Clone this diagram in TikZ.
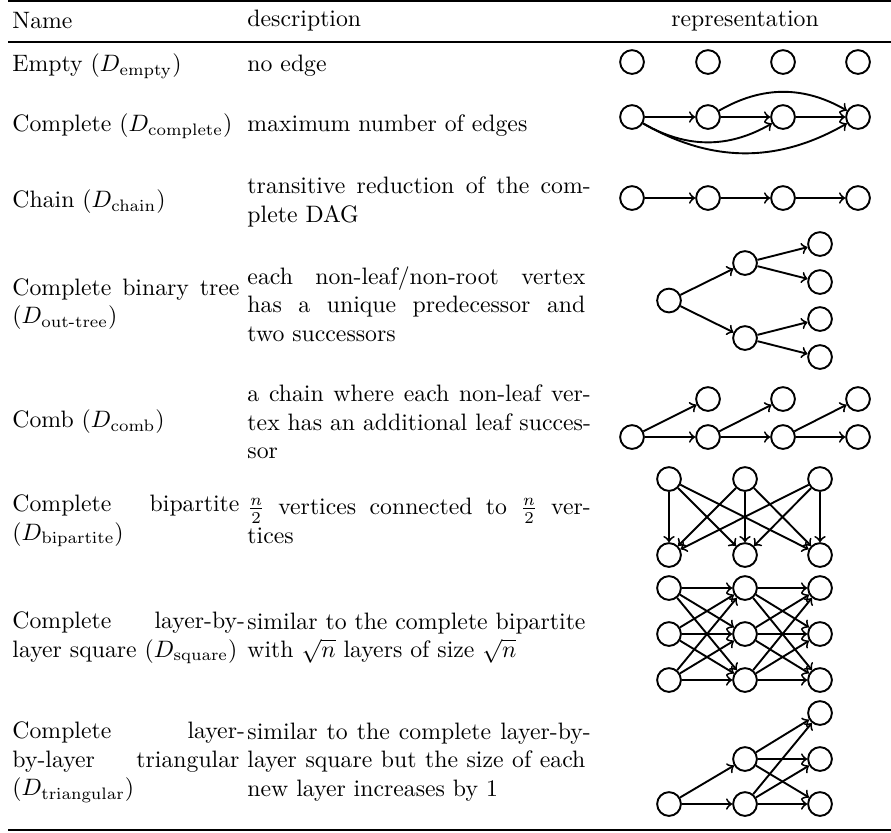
\documentclass[tikz,border=0pt]{standalone}
\usepackage{amsmath}
\newcommand{\jname}[1]{\leavevmode\hbox to 95.6pt{#1}}
\newcommand{\jdesc}[1]{\leavevmode\hbox to 142.26pt{#1}}
\newcommand{\hangdash}{-\kern-2.3pt}
\tikzset{
  vertex/.style={circle,draw,thick,minimum size=10pt,inner sep=0pt},
  arc/.style={->,thick},
  namecell/.style={anchor=west,inner sep=0pt,text width=95.6pt,align=left},
  desccell/.style={anchor=west,inner sep=0pt,text width=142.26pt,align=left},
}
\begin{document}
\begin{tikzpicture}[x=0.42105pt,y=-0.42105pt]
\useasboundingbox (0,0) rectangle (891,832);
% rules
\draw[line width=0.8pt] (8,1) -- (891,1);
\draw[line width=0.5pt] (8,42) -- (891,42);
\draw[line width=0.8pt] (8,830) -- (891,830);

% header
\node[namecell] (hname) at (12,21) {Name};
\node[desccell] (hdesc) at (247,21) {description};
\node (hrep) at (745,21) {representation};

% names and descriptions
\node[namecell] (n1) at (12,66) {Empty ($D_{\mathrm{empty}}$)};
\node[desccell] (d1) at (247,66) {no edge};
\node[namecell] (n2) at (12,126) {Complete ($D_{\mathrm{complete}}$)};
\node[desccell] (d2) at (247,126) {maximum number of edges};
\node[namecell] (n3) at (12,202) {Chain ($D_{\mathrm{chain}}$)};
\node[desccell] (d3) at (247,202) {\jdesc{transitive \hfil reduction \hfil of \hfil the \hfil com\hangdash}\\plete DAG};
\node[namecell] (n4) at (12,304) {\jname{Complete \hfil binary \hfil tree}\\($D_{\text{out-tree}}$)};
\node[desccell] (d4) at (247,304) {\jdesc{each \hfil non-leaf/non-root \hfil vertex}\\\jdesc{has \hfil a \hfil unique \hfil predecessor \hfil and}\\two successors};
\node[namecell] (n5) at (12,422) {Comb ($D_{\mathrm{comb}}$)};
\node[desccell] (d5) at (247,422) {\jdesc{a \hfil chain \hfil where \hfil each \hfil non-leaf \hfil ver\hangdash}\\\jdesc{tex \hfil has \hfil an \hfil additional \hfil leaf \hfil succes\hangdash}\\sor};
\node[namecell] (n6) at (12,521) {\jname{Complete \hfil bipartite}\\($D_{\mathrm{bipartite}}$)};
\node[desccell] (d6) at (247,521) {\jdesc{$\frac{n}{2}$ \hfil vertices \hfil connected \hfil to \hfil $\frac{n}{2}$ \hfil ver\hangdash}\\tices};
\node[namecell] (n7) at (12,638) {\jname{Complete \hfil layer-by\hangdash}\\layer square ($D_{\mathrm{square}}$)};
\node[desccell] (d7) at (247,638) {\jdesc{similar \hfil to \hfil the \hfil complete \hfil bipartite}\\with $\sqrt{n}$ layers of size $\sqrt{n}$};
\node[namecell] (n8) at (12,762) {\jname{Complete \hfil layer\hangdash}\\\jname{by-layer \hfil triangular}\\($D_{\mathrm{triangular}}$)};
\node[desccell] (d8) at (247,762) {\jdesc{similar \hfil to \hfil the \hfil complete \hfil layer-by\hangdash}\\\jdesc{layer \hfil square \hfil but \hfil the \hfil size \hfil of \hfil each}\\new layer increases by 1};

% empty
\foreach \i/\x in {1/632,2/708,3/783,4/858}
  \node[vertex] (e\i) at (\x,62) {};

% complete
\foreach \i/\x in {1/632,2/708,3/783,4/858}
  \node[vertex] (c\i) at (\x,117) {};
\draw[arc] (c1) -- (c2);
\draw[arc] (c2) -- (c3);
\draw[arc] (c3) -- (c4);
\draw[arc] (c2) to[bend left] (c4);
\draw[arc] (c1) to[bend right] (c3);
\draw[arc] (c1) to[bend right] (c4);

% chain
\foreach \i/\x in {1/632,2/708,3/783,4/858}
  \node[vertex] (h\i) at (\x,198) {};
\draw[arc] (h1) -- (h2);
\draw[arc] (h2) -- (h3);
\draw[arc] (h3) -- (h4);

% binary tree
\node[vertex] (r) at (669,300.5) {};
\node[vertex] (m1) at (745,263) {};
\node[vertex] (m2) at (745,338) {};
\foreach \i/\y in {1/244,2/282,3/319,4/357}
  \node[vertex] (l\i) at (820,\y) {};
\draw[arc] (r) -- (m1);
\draw[arc] (r) -- (m2);
\draw[arc] (m1) -- (l1);
\draw[arc] (m1) -- (l2);
\draw[arc] (m2) -- (l3);
\draw[arc] (m2) -- (l4);

% comb
\foreach \i/\x in {1/632,2/708,3/783,4/858}
  \node[vertex] (b\i) at (\x,437) {};
\foreach \i/\x in {2/708,3/783,4/858}
  \node[vertex] (u\i) at (\x,399) {};
\draw[arc] (b1) -- (b2);
\draw[arc] (b2) -- (b3);
\draw[arc] (b3) -- (b4);
\draw[arc] (b1) -- (u2);
\draw[arc] (b2) -- (u3);
\draw[arc] (b3) -- (u4);

% bipartite
\foreach \i/\x in {1/669,2/745,3/820}
{
  \node[vertex] (p\i) at (\x,479) {};
  \node[vertex] (q\i) at (\x,555) {};
}
\foreach \i in {1,2,3}
  \foreach \j in {1,2,3}
    \draw[arc] (p\i) -- (q\j);

% square
\foreach \i/\x in {1/669,2/745,3/820}
  \foreach \j/\y in {1/588,2/634,3/680}
    \node[vertex] (s\i\j) at (\x,\y) {};
\foreach \j in {1,2,3}
  \foreach \k in {1,2,3}
  {
    \draw[arc] (s1\j) -- (s2\k);
    \draw[arc] (s2\j) -- (s3\k);
  }

% triangular
\node[vertex] (t1) at (669,804) {};
\node[vertex] (g1) at (745,759) {};
\node[vertex] (g2) at (745,804) {};
\foreach \i/\y in {1/713,2/759,3/804}
  \node[vertex] (k\i) at (820,\y) {};
\draw[arc] (t1) -- (g1);
\draw[arc] (t1) -- (g2);
\foreach \i in {1,2}
  \foreach \j in {1,2,3}
    \draw[arc] (g\i) -- (k\j);
\end{tikzpicture}
\end{document}
